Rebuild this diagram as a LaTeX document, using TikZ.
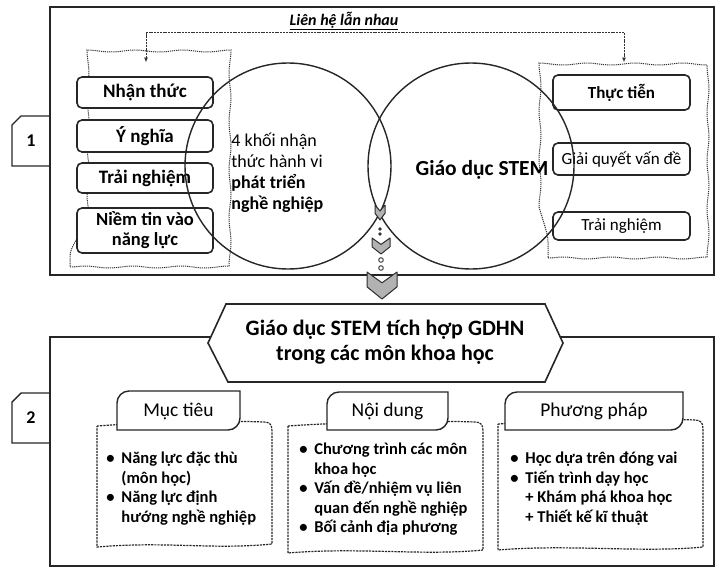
\documentclass[tikz,border=0pt]{standalone}
\usepackage{fontspec}
\setmainfont{Carlito}
\usetikzlibrary{arrows.meta,positioning,shapes.misc,decorations.pathmorphing}

\newcommand{\bul}{\makebox[15pt][l]{\textbullet}}
\newcommand{\bsk}{\hspace*{15pt}}

\begin{document}
\begin{tikzpicture}[
        x=1pt, y=-1pt, % 1 px = 1 pt, y hacia abajo
        >=Stealth,
        thick,
        frame/.style={draw=black!85, line width=1.6pt},
        numbox/.style={draw=black!85, line width=1.3pt, chamfered rectangle,
            chamfered rectangle corners=north west, chamfered rectangle xsep=7pt,
            minimum width=38, minimum height=50, inner sep=0pt,
            font=\bfseries\fontsize{18}{20}\selectfont},
        grp/.style={draw=black!80, dash pattern=on 1.2pt off 0.9pt, line width=1pt,
            decorate, decoration={snake, amplitude=1pt, segment length=48pt}},
        lbox/.style={draw=black!85, rounded corners=5pt, line width=1.6pt, fill=white,
            minimum width=136, inner sep=1pt, align=center,
            font=\bfseries\fontsize{19}{20}\selectfont},
        rbox/.style={lbox, minimum width=137, font=\fontsize{17}{19}\selectfont},
        vong/.style={circle, draw=black!85, line width=1.4pt, inner sep=0pt, minimum size=206},
        conn/.style={<->, >={Latex[length=5pt,width=4pt]}, draw=black!80,
            dash pattern=on 2pt off 0.8pt, line width=0.9pt},
        chev/.style={fill=gray!60, draw=gray!35!black, line width=1pt, line join=round},
        card/.style={draw=black!85, dash pattern=on 2.2pt off 1pt, line width=1.2pt},
        tab/.style={draw=black!85, line width=1.4pt, fill=white},
        tabtext/.style={font=\fontsize{19.5}{22}\selectfont},
        dsach/.style={anchor=north west, align=left, inner sep=0pt,
            font=\bfseries\fontsize{16.5}{19.5}\selectfont}
    ]

        % --- PARÁMETROS / MACROS ---
        % chevron: x, y arriba, semi-ancho, alto
        \def\chevron#1#2#3#4{%
            \draw[chev] ({#1-#3},#2) -- (#1,{#2+0.4*#4}) -- ({#1+#3},#2)
                -- ({#1+#3},{#2+0.55*#4}) -- (#1,{#2+#4}) -- ({#1-#3},{#2+0.55*#4}) -- cycle;}
        % tarjeta punteada: x1, y1, x2, y2
        \def\cardframe#1#2#3#4{%
            \draw[card] (#1,{#2+4}) .. controls ({#1+40},{#2+1}) and ({#3-60},{#2-2}) .. ({#3-8},#2)
                .. controls ({#3-2},#2) and (#3,{#2+3}) .. (#3,{#2+9})
                -- (#3,{#4-3})
                .. controls ({#3-60},{#4+3}) and ({#1+70},{#4-6}) .. (#1,#4) -- cycle;}
        % pestaña: x1, y1, x2, y2
        \def\tabshape#1#2#3#4{%
            \draw[tab] (#1,#4) -- (#1,{#2+12}) arc[start angle=180, end angle=90, radius=12pt]
                -- (#3,#2) -- (#3,{#4-12}) arc[start angle=0, end angle=-90, radius=12pt] -- cycle;}

        \useasboundingbox (0,0) rectangle (721,568);

        % --- PANEL 1 ---
        \draw[frame] (50,7) rectangle (714,275);
        \node[numbox] (so1) at (31,141) {1};

        \node[grp, minimum width=152, minimum height=204] (grpL) at (146,165) {};
        \node[grp, minimum width=152, minimum height=195] (grpR) at (624,160.5) {};

        \draw[conn] (grpL.north) -- ++(0,-30) -| (grpR.north);
        \node[font=\bfseries\itshape\fontsize{16}{18}\selectfont] (lienhe) at (344,21) {\underline{Liên hệ lẫn nhau}};

        % cajas izquierda
        \node[lbox, minimum height=31] (nhanthuc) at (145,92.5) {Nhận thức};
        \node[lbox, minimum height=32] (ynghia) at (145,136) {Ý nghĩa};
        \node[lbox, minimum height=30] (trainghiemL) at (145,178) {Trải nghiệm};
        \node[lbox, minimum height=45, font=\bfseries\fontsize{18.5}{20}\selectfont] (niemtin) at (145,230.5) {Niềm tin vào\\năng lực};

        % cajas derecha
        \node[rbox, minimum height=35, font=\bfseries\fontsize{17}{19}\selectfont] (thuctien) at (621.5,92.5) {Thực tiễn};
        \node[rbox, minimum height=32] (giaiquyet) at (621.5,159) {Giải quyết vấn đề};
        \node[rbox, minimum height=28] (trainghiemR) at (621.5,226) {Trải nghiệm};

        % círculos
        \node[vong] (vongL) at (288,166) {};
        \node[vong] (vongR) at (471,166) {};
        \node[align=left, anchor=west, inner sep=0pt, font=\fontsize{18}{21}\selectfont] (khoi) at (231,173)
            {4 khối nhận\\thức hành vi\\\textbf{phát triển}\\\textbf{nghề nghiệp}};
        \node[font=\bfseries\fontsize{21.5}{24}\selectfont] (stem) at (482,170) {Giáo dục STEM};

        % flechas entre paneles
        \chevron{380}{205}{5}{15}
        \fill[black!80] (380,229) circle (1.8) (380,234) circle (1.8);
        \chevron{381}{238}{9}{16}
        \draw[black!80, line width=0.9pt, fill=white] (381,260) circle (2.3) (381,268) circle (2.3);

        % --- PANEL 2 ---
        \draw[frame] (50,337) rectangle (714,566);
        \node[numbox] (so2) at (31,418) {2};

        \chevron{382}{272}{15}{27}

        \draw[frame, fill=white] (208,343) -- (226,304) -- (545,304) -- (563,343) -- (545,382) -- (228,382) -- cycle;
        \node[align=center, font=\bfseries\fontsize{22}{25}\selectfont] (tieude) at (385,342)
            {Giáo dục STEM tích hợp GDHN\\trong các môn khoa học};

        % tarjetas
        \cardframe{97}{422}{272}{547}
        \cardframe{288}{422}{483}{553}
        \cardframe{498}{420}{703}{550}
        \tabshape{117}{391}{240}{430}
        \tabshape{327}{392}{448}{430}
        \tabshape{505}{392}{683}{430}
        \node[tabtext] (muctieu) at (178.5,411) {Mục tiêu};
        \node[tabtext] (noidung) at (387.5,411) {Nội dung};
        \node[tabtext] (phuongphap) at (594,411) {Phương pháp};

        \node[dsach] (dsMT) at (106,452)
            {\bul Năng lực đặc thù\\\bsk (môn học)\\\bul Năng lực định\\\bsk hướng nghề nghiệp};
        \node[dsach] (dsND) at (299,443)
            {\bul Chương trình các môn\\\bsk khoa học\\\bul Vấn đề/nhiệm vụ liên\\\bsk quan đến nghề nghiệp\\\bul Bối cảnh địa phương};
        \node[dsach] (dsPP) at (510,452)
            {\bul Học dựa trên đóng vai\\\bul Tiến trình dạy học\\\bsk+ Khám phá khoa học\\\bsk+ Thiết kế kĩ thuật};

    \end{tikzpicture}
\end{document}
